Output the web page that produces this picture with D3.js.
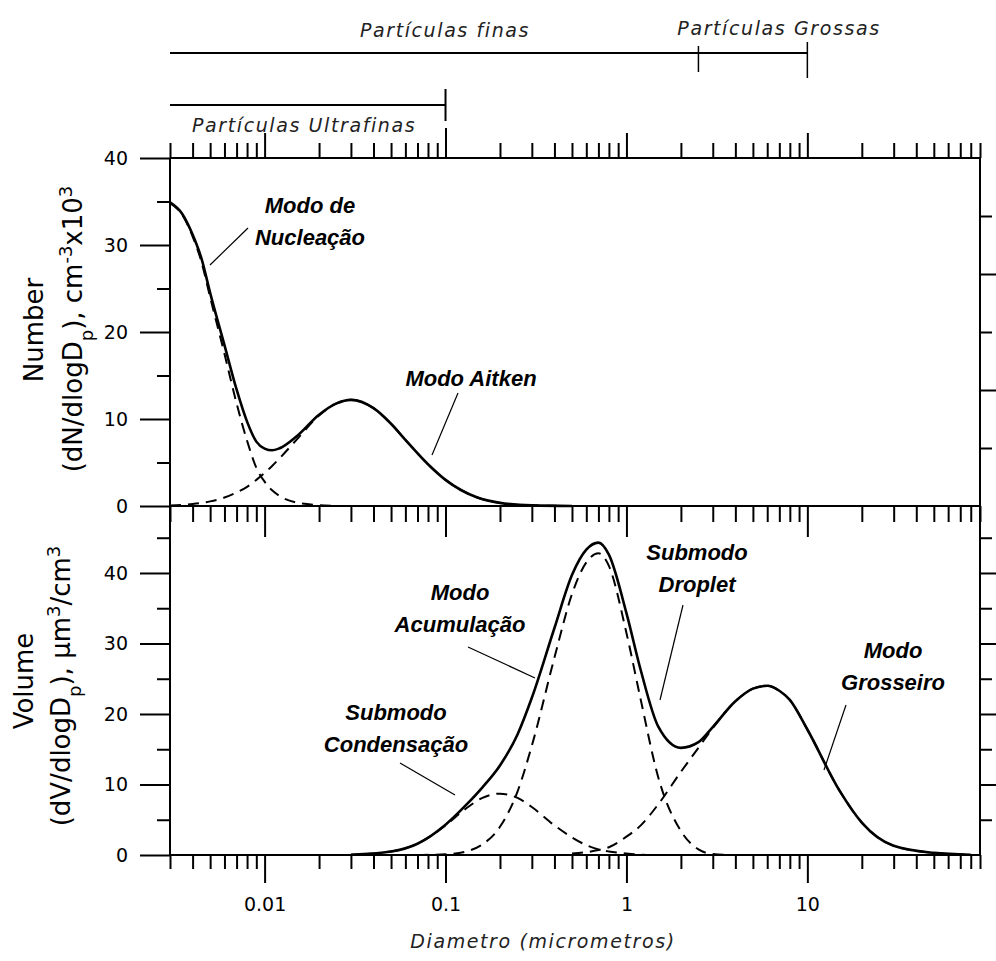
<!DOCTYPE html>
<html lang="pt">
<meta charset="UTF-8">
<style>
    body{ margin:0; background:#fff; }
    .axis path, .axis line{ stroke:#000; stroke-width:2; }
    .axis text{ font-family:"DejaVu Sans",sans-serif; font-size:19px; fill:#000; }
    .ytitle{ font-family:"DejaVu Sans",sans-serif; font-size:26px; }
    .note{ font-family:"Liberation Sans",Arial,sans-serif; font-size:22px; font-weight:bold; font-style:italic; }
    .band{ font-family:"DejaVu Sans",sans-serif; font-size:19px; font-style:italic; letter-spacing:1.6px; fill:#222; }
</style>
<body>
<div id="chart"></div>
<script src="https://cdn.jsdelivr.net/npm/d3@7"></script>
<script>
    // diameters (micrometros) read along the x axis
    var diamN = [0.003,0.0035,0.004,0.0045,0.005,0.006,0.007,0.008,0.009,0.01,0.011,0.012,0.015,0.02,0.025,0.03,0.04,0.05,0.06,0.08,0.1,0.15,0.2,0.3,0.5];
    var nucleacao = [34.8,33.5,31.0,27.9,24.0,17.5,11.8,7.5,4.4,2.8,1.8,1.2,0.4,0.1,0,null,null,null,null,null,null,null,null,null,null];
    var aitken    = [0.07,0.13,0.23,0.36,0.53,0.97,1.55,2.2,3.0,3.8,4.6,5.4,7.6,10.4,11.8,12.2,11.25,9.45,7.6,4.8,3.0,0.97,0.36,0.07,0];
    var totalN    = [34.9,33.6,31.2,28.3,24.5,18.5,13.4,9.7,7.4,6.6,6.4,6.6,8.0,10.5,11.8,12.2,11.25,9.45,7.6,4.8,3.0,0.97,0.36,0.07,0];

    var diamV = [0.03,0.05,0.07,0.1,0.13,0.16,0.2,0.25,0.3,0.4,0.5,0.6,0.7,0.8,1,1.2,1.5,2,2.5,3,4,5,6,7,8,10,15,20,30,50,80];
    var condensacao = [0.04,0.5,1.6,4.2,6.6,8.1,8.7,8.1,6.8,4.2,2.5,1.4,0.8,0.5,0.2,0.05,0,null,null,null,null,null,null,null,null,null,null,null,null,null,null];
    var droplet     = [null,null,0,0.1,0.5,1.5,4.0,9.0,15.5,28.0,37.0,41.5,42.8,41.0,31.5,22.0,11.0,3.4,0.8,0.15,0,null,null,null,null,null,null,null,null,null,null];
    var grosseiro   = [null,null,null,null,null,null,null,null,null,null,0.2,0.4,0.7,1.1,2.6,4.2,7.2,11.8,15.2,18.0,21.8,23.6,24.0,23.3,22.0,17.8,9.2,4.6,1.3,0.3,0.03];
    var totalV      = [0.04,0.5,1.6,4.3,7.1,9.6,12.7,17.1,22.3,32.2,39.7,43.3,44.3,42.6,34.3,26.2,18.2,15.2,16.0,18.15,21.8,23.6,24.0,23.3,22.0,17.8,9.2,4.6,1.3,0.3,0.03];

    var majorX = [0.01,0.1,1,10];
    var minorX = [3,4,5,6,7,8,9].map(function(m){return m*0.001})
        .concat([2,3,4,5,6,7,8,9].map(function(m){return m*0.01}))
        .concat([2,3,4,5,6,7,8,9].map(function(m){return m*0.1}))
        .concat([2,3,4,5,6,7,8,9])
        .concat([20,30,40,50,60,70,80,90]);
    var bounds = [0.1,2.5,10];   // ultrafinas | finas/grossas | grossas

    var width = 996, height = 961;
    var svg = d3.select("#chart").append("svg")
        .attr("width", width).attr("height", height)
        .style("background","#fff");

    var x = d3.scaleLog().domain([0.003, 90]).range([170, 980]);
    var yN = d3.scaleLinear().domain([0, 40]).range([506, 158]);
    var yV = d3.scaleLinear().domain([0, 49.5]).range([855, 506]);
    var yR = d3.scaleLinear().domain([0, 6]).range([506, 158]);

    function noLabel(){ return ""; }

    function addAxis(axis, tx, ty){
        var g = svg.append("g").attr("class","axis")
            .attr("transform","translate("+tx+","+ty+")")
            .call(axis);
        return g;
    }

    // frame lines
    svg.append("g").attr("class","axis").selectAll("line")
        .data([[170,158,980,158],[170,506,980,506],[170,855,980,855],[170,158,170,855],[980,158,980,855]])
        .enter().append("line")
        .attr("x1",function(d){return d[0]}).attr("y1",function(d){return d[1]})
        .attr("x2",function(d){return d[2]}).attr("y2",function(d){return d[3]});

    // top x axis
    addAxis(d3.axisTop(x).tickValues(minorX).tickSize(15).tickFormat(noLabel), 0, 158);
    addAxis(d3.axisTop(x).tickValues([0.01,1,10]).tickSize(25).tickFormat(noLabel), 0, 158);
    addAxis(d3.axisTop(x).tickValues([0.1]).tickSize(30).tickFormat(noLabel), 0, 158);
    // middle axis (ticks go down)
    addAxis(d3.axisBottom(x).tickValues(minorX).tickSize(16).tickFormat(noLabel), 0, 506);
    addAxis(d3.axisBottom(x).tickValues(majorX).tickSize(31).tickFormat(noLabel), 0, 506);
    // bottom axis
    addAxis(d3.axisBottom(x).tickValues(minorX).tickSize(14).tickFormat(noLabel), 0, 855);
    addAxis(d3.axisBottom(x).tickValues(majorX).tickSize(28).tickPadding(15)
        .tickFormat(function(d){ return d3.format("~g")(d); }), 0, 855);

    // left y axes
    addAxis(d3.axisLeft(yN).tickValues([5,15,25,35]).tickSize(13).tickFormat(noLabel), 170, 0);
    addAxis(d3.axisLeft(yN).tickValues([0,10,20,30,40]).tickSize(30).tickPadding(12), 170, 0);
    addAxis(d3.axisLeft(yV).tickValues([5,15,25,35,45]).tickSize(13).tickFormat(noLabel), 170, 0);
    addAxis(d3.axisLeft(yV).tickValues([0,10,20,30,40]).tickSize(30).tickPadding(12), 170, 0);
    // right y axes
    addAxis(d3.axisRight(yR).tickValues([1,3,5]).tickSize(12).tickFormat(noLabel), 980, 0);
    addAxis(d3.axisRight(yR).tickValues([2,4]).tickSize(16).tickFormat(noLabel), 980, 0);
    addAxis(d3.axisRight(yV).tickValues([5,15,25,35,45]).tickSize(12).tickFormat(noLabel), 980, 0);
    addAxis(d3.axisRight(yV).tickValues([10,20,30,40]).tickSize(16).tickFormat(noLabel), 980, 0);
    svg.selectAll(".axis path.domain").remove();

    // curves
    function drawCurve(diams, vals, y, dashed){
        var pts = diams.map(function(d,i){ return [d, vals[i]]; })
            .filter(function(p){ return p[1] != null; });
        var line = d3.line()
            .x(function(p){ return x(p[0]); })
            .y(function(p){ return y(p[1]); })
            .curve(d3.curveMonotoneX);
        svg.append("path").datum(pts)
            .attr("d", line)
            .attr("fill","none")
            .attr("stroke","#000")
            .attr("stroke-width", dashed ? 2 : 2.6)
            .attr("stroke-dasharray", dashed ? "11,7" : null);
    }
    drawCurve(diamN, nucleacao, yN, true);
    drawCurve(diamN, aitken, yN, true);
    drawCurve(diamN, totalN, yN, false);
    drawCurve(diamV, condensacao, yV, true);
    drawCurve(diamV, droplet, yV, true);
    drawCurve(diamV, grosseiro, yV, true);
    drawCurve(diamV, totalV, yV, false);

    // size ranges at the top
    var br = svg.append("g").attr("stroke","#000").attr("stroke-width",2);
    br.append("line").attr("x1",x(0.003)).attr("x2",x(bounds[2])).attr("y1",53).attr("y2",53);
    br.append("line").attr("x1",x(bounds[1])).attr("x2",x(bounds[1])).attr("y1",46).attr("y2",72).attr("stroke-width",1.5);
    br.append("line").attr("x1",x(bounds[2])).attr("x2",x(bounds[2])).attr("y1",42).attr("y2",78).attr("stroke-width",1.5);
    br.append("line").attr("x1",x(0.003)).attr("x2",x(bounds[0])).attr("y1",105).attr("y2",105);
    br.append("line").attr("x1",x(bounds[0])).attr("x2",x(bounds[0])).attr("y1",89).attr("y2",121);

    svg.append("text").attr("class","band").attr("x",445).attr("y",37).attr("text-anchor","middle").text("Partículas finas");
    svg.append("text").attr("class","band").attr("x",779).attr("y",35).attr("text-anchor","middle").text("Partículas Grossas");
    svg.append("text").attr("class","band").attr("x",192).attr("y",132).text("Partículas Ultrafinas");

    // axis titles
    svg.append("text").attr("class","band").attr("x",543).attr("y",948).attr("text-anchor","middle")
        .text("Diametro (micrometros)");

    function yTitle(cx, cy){
        return svg.append("text").attr("class","ytitle")
            .attr("transform","translate("+cx+","+cy+") rotate(-90)")
            .attr("text-anchor","middle");
    }
    yTitle(43, 330).text("Number");
    var t2 = yTitle(82, 329);
    t2.append("tspan").text("(dN/dlogD");
    t2.append("tspan").attr("baseline-shift","sub").attr("font-size","18px").text("p");
    t2.append("tspan").text("), cm");
    t2.append("tspan").attr("baseline-shift","super").attr("font-size","18px").text("-3");
    t2.append("tspan").text("x10");
    t2.append("tspan").attr("baseline-shift","super").attr("font-size","18px").text("3");

    yTitle(33, 681).text("Volume");
    var t4 = yTitle(70, 686);
    t4.append("tspan").text("(dV/dlogD");
    t4.append("tspan").attr("baseline-shift","sub").attr("font-size","18px").text("p");
    t4.append("tspan").text("), µm");
    t4.append("tspan").attr("baseline-shift","super").attr("font-size","18px").text("3");
    t4.append("tspan").text("/cm");
    t4.append("tspan").attr("baseline-shift","super").attr("font-size","18px").text("3");

    // mode annotations
    var notes = [
        {lines:["Modo de","Nucleação"], x:310, y:213, lx1:248, ly1:228, lx2:210, ly2:265},
        {lines:["Modo Aitken"], x:471, y:386, lx1:458, ly1:393, lx2:432, ly2:455},
        {lines:["Modo","Acumulação"], x:460, y:600, lx1:468, ly1:647, lx2:535, ly2:678},
        {lines:["Submodo","Condensação"], x:396, y:720, lx1:400, ly1:763, lx2:455, ly2:795},
        {lines:["Submodo","Droplet"], x:697, y:560, lx1:683, ly1:605, lx2:660, ly2:700},
        {lines:["Modo","Grosseiro"], x:893, y:658, lx1:846, ly1:705, lx2:824, ly2:770}
    ];
    notes.forEach(function(n){
        var t = svg.append("text").attr("class","note").attr("text-anchor","middle");
        n.lines.forEach(function(s,i){
            t.append("tspan").attr("x", n.x).attr("y", n.y + i*32).text(s);
        });
        svg.append("line").attr("x1",n.lx1).attr("y1",n.ly1).attr("x2",n.lx2).attr("y2",n.ly2)
            .attr("stroke","#000").attr("stroke-width",1.2);
    });
</script>
</body>
</html>
